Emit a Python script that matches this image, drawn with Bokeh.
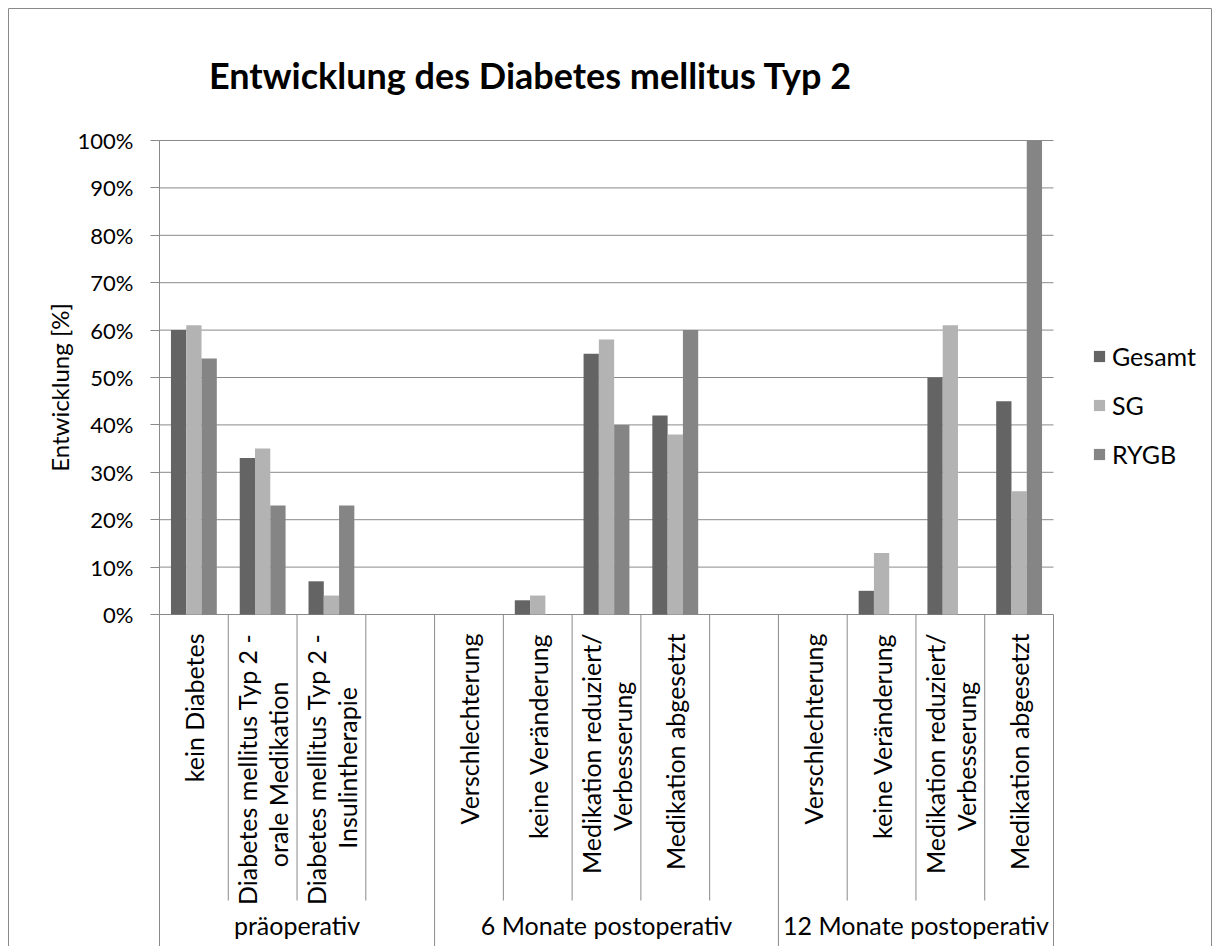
import math
from bokeh.plotting import figure
from bokeh.models import (Range1d, LinearAxis, FixedTicker, NumeralTickFormatter,
                          Legend, LegendItem)
from bokeh.core.properties import value
from bokeh.embed import file_html
from bokeh.resources import INLINE

# ---------------- data ----------------
title_text = "Entwicklung des Diabetes mellitus Typ 2"
y_title = "Entwicklung [%]"
groups = ["präoperativ", "6 Monate postoperativ", "12 Monate postoperativ"]
group_categories = [
    ["kein Diabetes", "Diabetes mellitus Typ 2 -\norale Medikation",
     "Diabetes mellitus Typ 2 -\nInsulintherapie", ""],
    ["Verschlechterung", "keine Veränderung", "Medikation reduziert/\nVerbesserung",
     "Medikation abgesetzt", ""],
    ["Verschlechterung", "keine Veränderung", "Medikation reduziert/\nVerbesserung",
     "Medikation abgesetzt"],
]
series = ["Gesamt", "SG", "RYGB"]
gesamt = [0.60, 0.33, 0.07, 0.0, 0.0, 0.03, 0.55, 0.42, 0.0, 0.0, 0.05, 0.50, 0.45]
sg     = [0.61, 0.35, 0.04, 0.0, 0.0, 0.04, 0.58, 0.38, 0.0, 0.0, 0.13, 0.61, 0.26]
rygb   = [0.54, 0.23, 0.23, 0.0, 0.0, 0.00, 0.40, 0.60, 0.0, 0.0, 0.00, 0.00, 1.00]
y_ticks = [0.0, 0.1, 0.2, 0.3, 0.4, 0.5, 0.6, 0.7, 0.8, 0.9, 1.0]

# ---------------- style / layout ----------------
colors = ["#646464", "#b3b3b3", "#858585"]
line_col = "#8a8a8a"
FONT = "Lato"
FS = "25px"
FS_TICK = "22px"

FIG_W, FIG_H = 1219, 946
PLOT_L, PLOT_R = 159, 1053   # px of plot area
Y0, Y100 = 614, 140          # px of 0% and 100%

categories = [c for g in group_categories for c in g]
n_slots = len(categories)
slot_px = (PLOT_R - PLOT_L) / n_slots
per = (Y0 - Y100)

def px2x(px):
    return (px - PLOT_L) / slot_px

def px2y(py):
    return (Y0 - py) / per

p = figure(width=FIG_W, height=FIG_H, output_backend="svg", toolbar_location=None,
           x_axis_type=None, y_axis_type=None,
           x_range=Range1d(px2x(0), px2x(FIG_W)),
           y_range=Range1d(px2y(FIG_H), px2y(0)),
           min_border=0, min_border_left=0, min_border_right=0,
           min_border_top=0, min_border_bottom=0)
p.outline_line_color = None
p.background_fill_color = "white"
p.border_fill_color = "white"

# chart area border
p.quad(left=[px2x(8)], right=[px2x(1211)], top=[px2y(8)], bottom=[px2y(FIG_H + 20)],
       fill_color=None, line_color=line_col, line_width=1)

# gridlines (incl. the category axis line at 0)
p.segment(x0=[0] * len(y_ticks), x1=[n_slots] * len(y_ticks), y0=y_ticks, y1=y_ticks,
          line_color=line_col, line_width=1)

# separators below the category axis
group_bounds = [0]
for g in group_categories:
    group_bounds.append(group_bounds[-1] + len(g))
sep_x, sep_y1 = [], []
for b in range(n_slots + 1):
    sep_x.append(b)
    sep_y1.append(px2y(FIG_H + 5) if b in group_bounds else px2y(900))
p.segment(x0=sep_x, x1=sep_x, y0=[0] * len(sep_x), y1=sep_y1,
          line_color=line_col, line_width=1)

# bars
bw = 1 / 4.5
renderers = []
for k, (name, vals) in enumerate(zip(series, [gesamt, sg, rygb])):
    xs = [i + 0.5 + (k - 1) * bw for i in range(n_slots)]
    r = p.vbar(x=xs, width=bw, top=vals, bottom=0, fill_color=colors[k], line_color=None)
    renderers.append(r)

# y axis
yax = LinearAxis(fixed_location=0, bounds=(0, 1), ticker=FixedTicker(ticks=y_ticks),
                 formatter=NumeralTickFormatter(format="0%"))
yax.axis_line_color = line_col
yax.major_tick_line_color = line_col
yax.major_tick_out = 9
yax.major_tick_in = 0
yax.minor_tick_out = 0
yax.minor_tick_in = 0
yax.major_label_standoff = 17
yax.major_label_text_font = FONT
yax.major_label_text_font_size = FS_TICK
yax.major_label_text_color = "black"
p.add_layout(yax, "left")

# category labels (rotated)
LINE_PX = 31
CHAR_PX = 10.7
TOP_PX = 633
lx, ly, lt = [], [], []
for i, cat in enumerate(categories):
    if not cat:
        continue
    lines = cat.split("\n")
    n = len(lines)
    lmax = max(len(s) for s in lines)
    for j, s in enumerate(lines):
        lx.append(i + 0.5 + (j - (n - 1) / 2) * LINE_PX / slot_px)
        ly.append(px2y(TOP_PX + (lmax - len(s)) * CHAR_PX / 2))
        lt.append(s)
p.text(x=lx, y=ly, text=lt, angle=math.pi / 2, text_align="right", text_baseline="middle",
       text_font=value(FONT), text_font_size=FS, text_color="black")

# group labels
gx = [(group_bounds[g] + group_bounds[g + 1]) / 2 for g in range(len(groups))]
p.text(x=gx, y=[px2y(924)] * len(groups), text=groups, text_align="center",
       text_baseline="middle", text_font=value(FONT), text_font_size=FS, text_color="black")

# y axis title
p.text(x=[px2x(59)], y=[px2y(387)], text=[y_title], angle=math.pi / 2, text_align="center",
       text_baseline="middle", text_font=value(FONT), text_font_size="24px", text_color="black")

# chart title
p.text(x=[px2x(530)], y=[px2y(74)], text=[title_text], text_align="center",
       text_baseline="middle", text_font=value(FONT), text_font_size="36px",
       text_font_style="bold", text_color="black")

# legend
legend = Legend(items=[LegendItem(label=s, renderers=[r]) for s, r in zip(series, renderers)],
                location=(1092, FIG_H - 469),
                glyph_width=14, glyph_height=14, label_height=30, label_standoff=6,
                spacing=19, padding=0, margin=0, border_line_color=None,
                background_fill_alpha=0, label_text_font=FONT, label_text_font_size=FS,
                label_text_color="black")
p.add_layout(legend)

open("out.html", "w").write(file_html(p, INLINE))
